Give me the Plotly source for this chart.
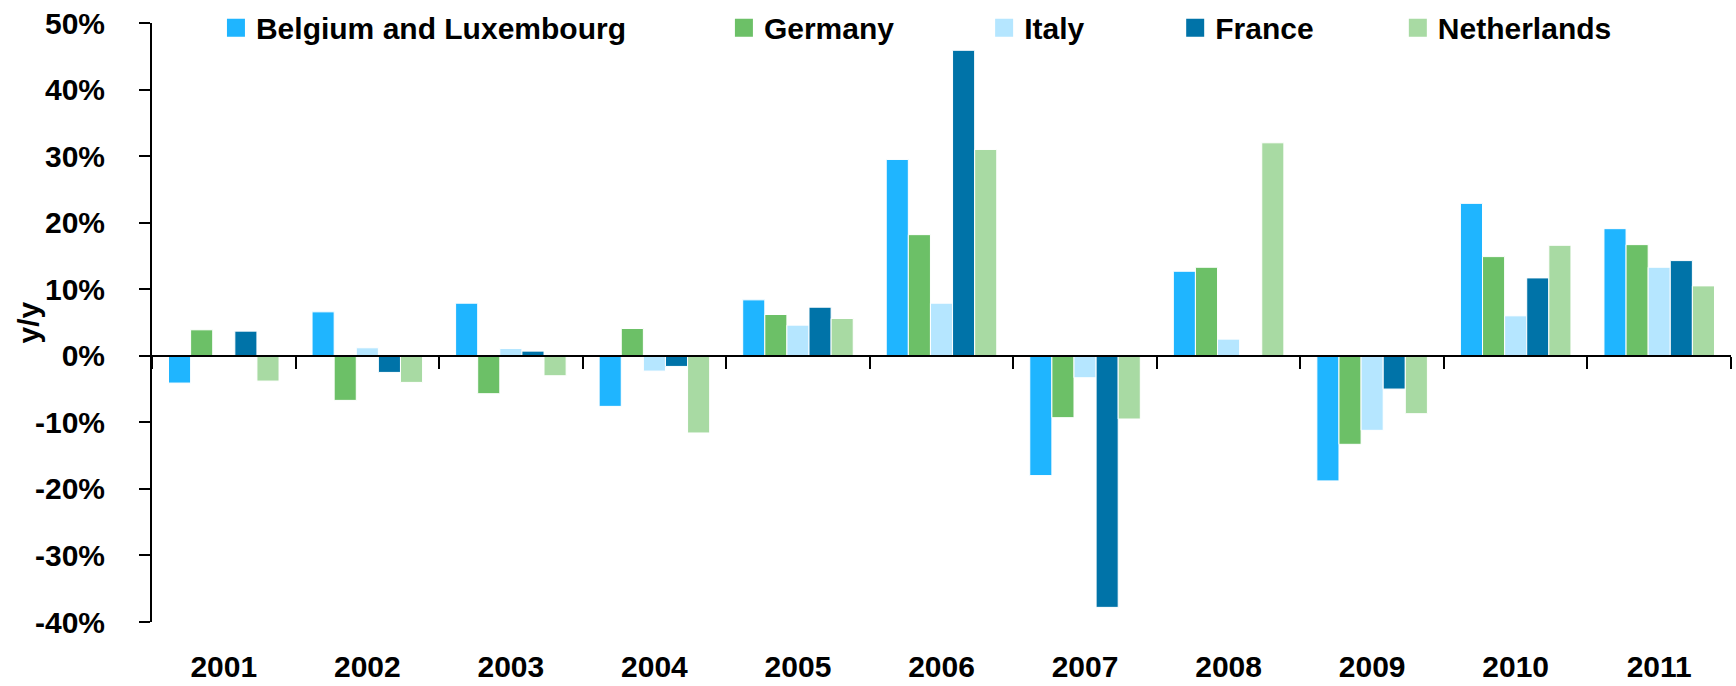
import plotly.graph_objects as go

# year-on-year change, %
years = ['2001', '2002', '2003', '2004', '2005', '2006', '2007', '2008', '2009', '2010', '2011']
belgium_lux = [-4.1, 6.6, 7.9, -7.6, 8.4, 29.5, -18.0, 12.7, -18.8, 22.9, 19.1]
germany = [3.9, -6.7, -5.7, 4.1, 6.2, 18.2, -9.3, 13.3, -13.3, 14.9, 16.7]
italy = [None, 1.2, 1.1, -2.3, 4.6, 7.9, -3.3, 2.5, -11.2, 6.0, 13.3]
france = [3.7, -2.5, 0.7, -1.6, 7.3, 45.9, -37.8, None, -5.0, 11.7, 14.3]
netherlands = [-3.8, -4.0, -3.0, -11.6, 5.6, 31.0, -9.5, 32.0, -8.7, 16.6, 10.5]

y_ticks = [-40, -30, -20, -10, 0, 10, 20, 30, 40, 50]
y_tick_labels = [f"{v}%" for v in y_ticks]

FONT = "Arial Narrow, Liberation Sans, Arial, sans-serif"
BOLD = dict(family=FONT, size=30, color="black", weight="bold")

series = [
    ("Belgium and Luxembourg", belgium_lux, "#1FB5FF", 0.0405),
    ("Germany", germany, "#6CC067", 0.3622),
    ("Italy", italy, "#B5E6FF", 0.5270),
    ("France", france, "#0073A8", 0.6480),
    ("Netherlands", netherlands, "#A8DAA3", 0.7890),
]

fig = go.Figure()

legends = {}
for i, (name, values, color, lx) in enumerate(series):
    fig.add_trace(go.Bar(
        x=years, y=values, name=name,
        marker=dict(color=color, line=dict(color="white", width=1)),
        showlegend=False,
    ))
    # legend swatch, one legend box per country to match spacing
    key = "legend" if i == 0 else f"legend{i + 1}"
    fig.add_trace(go.Scatter(
        x=[None], y=[None], xaxis="x2", mode="markers", name=name,
        marker=dict(symbol="square", size=16, color=color, line=dict(color=color, width=2)),
        legend=key, hoverinfo="skip",
    ))
    legends[key] = dict(
        x=lx, y=0.992, xanchor="left", yanchor="middle",
        bgcolor="rgba(0,0,0,0)", font=BOLD,
    )

y_min, y_max = y_ticks[0], y_ticks[-1]
zero_pos = (0 - y_min) / (y_max - y_min)

fig.update_layout(
    width=1736, height=686,
    margin=dict(l=152, r=5, t=23, b=64, autoexpand=False),
    plot_bgcolor="white", paper_bgcolor="white",
    barmode="group", bargap=0.23, bargroupgap=0,
    font=dict(family=FONT, color="black"),
    xaxis=dict(
        type="category", range=[-0.5, len(years) - 0.5],
        showline=False, ticks="", showgrid=False, zeroline=False,
        tickfont=BOLD, ticklabelstandoff=24,
    ),
    xaxis2=dict(
        overlaying="x", anchor="free", position=zero_pos,
        range=[-0.5, len(years) - 0.5],
        tickvals=[i - 0.5 for i in range(len(years) + 1)],
        showticklabels=False, ticks="outside", ticklen=12, tickwidth=2, tickcolor="black",
        showline=True, linewidth=2, linecolor="black", showgrid=False, zeroline=False,
    ),
    yaxis=dict(
        range=[y_min, y_max], tickvals=y_ticks, ticktext=y_tick_labels,
        showline=True, linewidth=2, linecolor="black",
        ticks="outside", ticklen=11, tickwidth=2, tickcolor="black",
        showgrid=False, zeroline=False,
        tickfont=BOLD, ticklabelstandoff=28,
    ),
    annotations=[dict(
        text="y/y", xref="paper", yref="paper", x=-0.0785, y=0.5,
        xanchor="center", yanchor="middle", textangle=-90,
        showarrow=False, font=BOLD,
    )],
    **legends,
)

fig.write_html(
    "out.html",
    config={"displayModeBar": False},
    post_script="document.body.style.margin = '0';",
)
